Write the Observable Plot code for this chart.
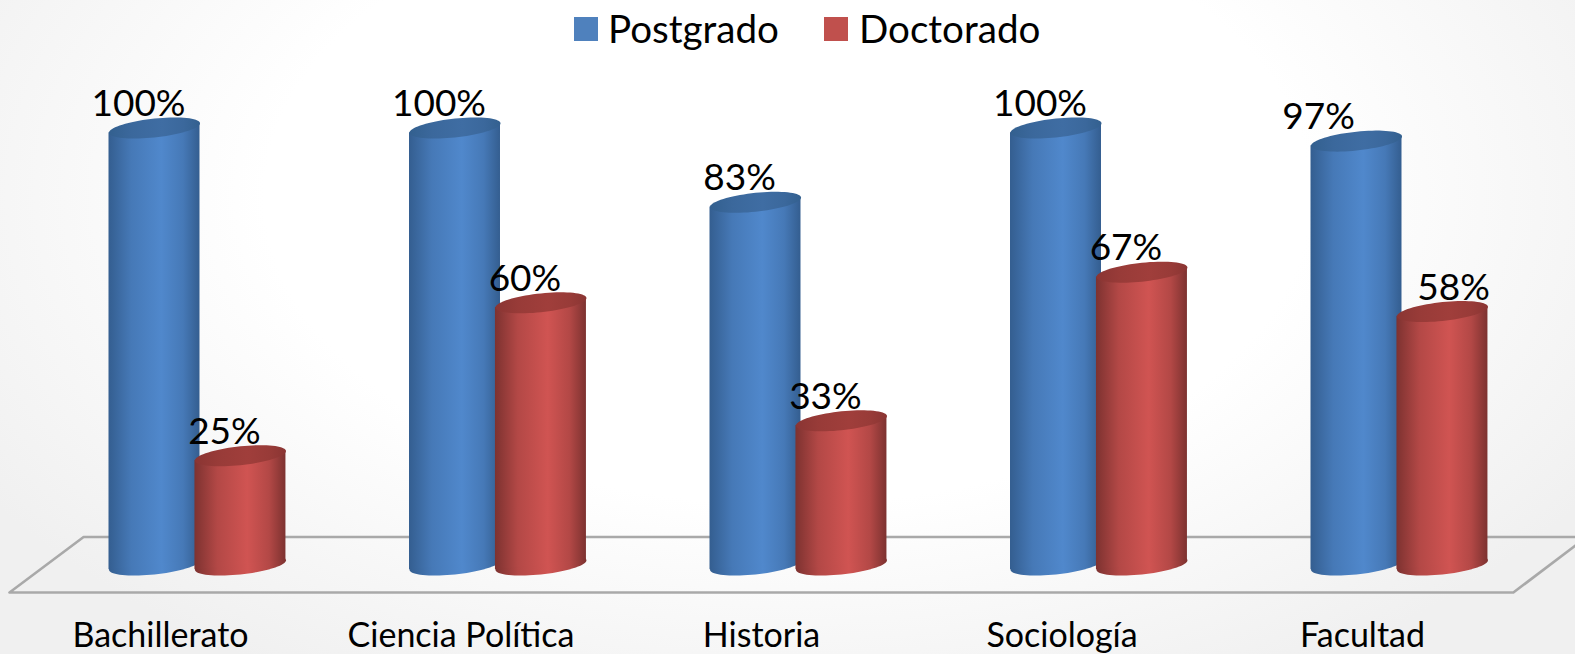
<!DOCTYPE html>
<html lang="es">
<head>
<meta charset="utf-8">
<script src="https://cdn.jsdelivr.net/npm/d3@7"></script>
<script src="https://cdn.jsdelivr.net/npm/@observablehq/plot@0.6"></script>
<style>
  html, body { margin: 0; padding: 0; width: 1575px; height: 654px; overflow: hidden; }
  body { position: relative; background: radial-gradient(ellipse 950px 560px at 50% 30%, #ffffff 55%, #f0f0f0 100%); }
  #legend { position: absolute; left: 0; top: 0; font: 38.6px Lato, sans-serif; color: #000; }
  #legend span { position: absolute; white-space: nowrap; line-height: 44px; top: 6px; }
  #legend i { position: absolute; top: 17px; width: 24px; height: 24px; }
  svg { position: absolute; left: 0; top: 0; }
</style>
</head>
<body>
<div id="chart"></div>
<div id="legend"></div>
<script>
const categories = ["Bachillerato", "Ciencia Política", "Historia", "Sociología", "Facultad"];
const seriesNames = ["Postgrado", "Doctorado"];
const postgrado = [100, 100, 83, 100, 97];
const doctorado = [25, 60, 33, 67, 58];
const postgradoLabelShift = [0, 0, 0, 0, -0.0732];
const doctoradoLabelShift = [0, 0, 0, 0, 0.09];
const floorX = [4.73, -0.236, -0.4825, 4.522, 4.73];
const floorY = [6.4, 6.4, -6.3, -6.3, 4.5];

const seriesValues = [postgrado, doctorado];
const labelShifts = [postgradoLabelShift, doctoradoLabelShift];
const seriesOffset = [0, 0.286];
const halfWidth = 0.1514;
const tilt = 1.08;
const radius = 45.5;

const looks = [
  {id: "blue", top: "blueTop", edge: "#345e90", mid: "#5088cc", swatch: "#4f81bd", topEdge: "#33608f", topMid: "#3f6da3"},
  {id: "red", top: "redTop", edge: "#7d3230", mid: "#d05452", swatch: "#c0504d", topEdge: "#8a3533", topMid: "#a03e3b"}
];

const gradients = () => {
  const defs = d3.create("svg:defs");
  const add = (id, edge, mid) => {
    const g = defs.append("linearGradient").attr("id", id).attr("x1", 0).attr("x2", 1).attr("y1", 0).attr("y2", 0);
    [[0, edge], [0.25, d3.interpolateRgb(edge, mid)(0.65)], [0.58, mid], [0.82, d3.interpolateRgb(edge, mid)(0.65)], [1, edge]]
      .forEach(([o, c]) => g.append("stop").attr("offset", o).attr("stop-color", c));
  };
  looks.forEach(l => { add(l.id, l.edge, l.mid); add(l.top, l.topEdge, l.topMid); });
  return defs.node();
};

const tiltedEllipse = {
  draw(context, size) {
    const r = Math.sqrt(size / Math.PI);
    for (let k = 0; k < 72; ++k) {
      const t = (k / 72) * 2 * Math.PI;
      const px = r * Math.cos(t);
      const py = 0.207 * r * Math.sin(t) - 0.103 * r * Math.cos(t);
      if (k === 0) context.moveTo(px, py); else context.lineTo(px, py);
    }
    context.closePath();
  }
};

const seriesMarks = seriesNames.flatMap((name, s) => {
  const rows = categories.map((c, i) => ({category: c, x: i + seriesOffset[s], value: seriesValues[s][i]}));
  const body = rows.flatMap(d => [
    {id: d.category, x: d.x - halfWidth, y1: -tilt, y2: d.value - tilt},
    {id: d.category, x: d.x + halfWidth, y1: tilt, y2: d.value + tilt}
  ]);
  return [
    Plot.dot(rows, {x: "x", y: () => 0, r: radius, symbol: tiltedEllipse, fill: `url(#${looks[s].id})`, stroke: "none"}),
    Plot.areaY(body, {x: "x", y1: "y1", y2: "y2", z: "id", fill: `url(#${looks[s].id})`}),
    Plot.dot(rows, {x: "x", y: "value", r: radius, symbol: tiltedEllipse, fill: `url(#${looks[s].top})`, stroke: "none"})
  ];
});

const labelRows = seriesNames.flatMap((name, s) =>
  categories.map((c, i) => ({x: i + seriesOffset[s] + labelShifts[s][i], value: seriesValues[s][i]})));

const chart = Plot.plot({
  width: 1575, height: 654,
  marginTop: 0, marginRight: 0, marginBottom: 34, marginLeft: 0,
  style: {background: "transparent", overflow: "hidden"},
  x: {type: "linear", domain: [0, 4], range: [154, 1356], axis: null},
  y: {domain: [0, 100], range: [564.5, 127.5], axis: null},
  marks: [
    gradients,
    Plot.line(floorX.map((x, i) => ({x, y: floorY[i]})), {x: "x", y: "y", stroke: "#a9a9a9", strokeWidth: 2.6, curve: "linear"}),
    ...seriesMarks,
    Plot.text(labelRows, {x: "x", y: "value", text: d => `${d.value}%`, dx: -16, dy: -12, lineAnchor: "bottom", textAnchor: "middle", fontSize: 37, fontFamily: "Lato", fill: "#000"}),
    Plot.axisX({ticks: [0, 1, 2, 3, 4], tickFormat: i => categories[i], tickSize: 0, tickPadding: 0, dx: 6, dy: 2, fontSize: 34, fontFamily: "Lato", fill: "#000", anchor: "bottom", label: null})
  ]
});
document.getElementById("chart").append(chart);

const legend = d3.select("#legend");
const swatchLeft = [574, 824];
const textLeft = [608, 859];
seriesNames.forEach((name, s) => {
  legend.append("i").style("left", swatchLeft[s] + "px").style("background", looks[s].swatch);
  legend.append("span").style("left", textLeft[s] + "px").text(name);
});
</script>
</body>
</html>
